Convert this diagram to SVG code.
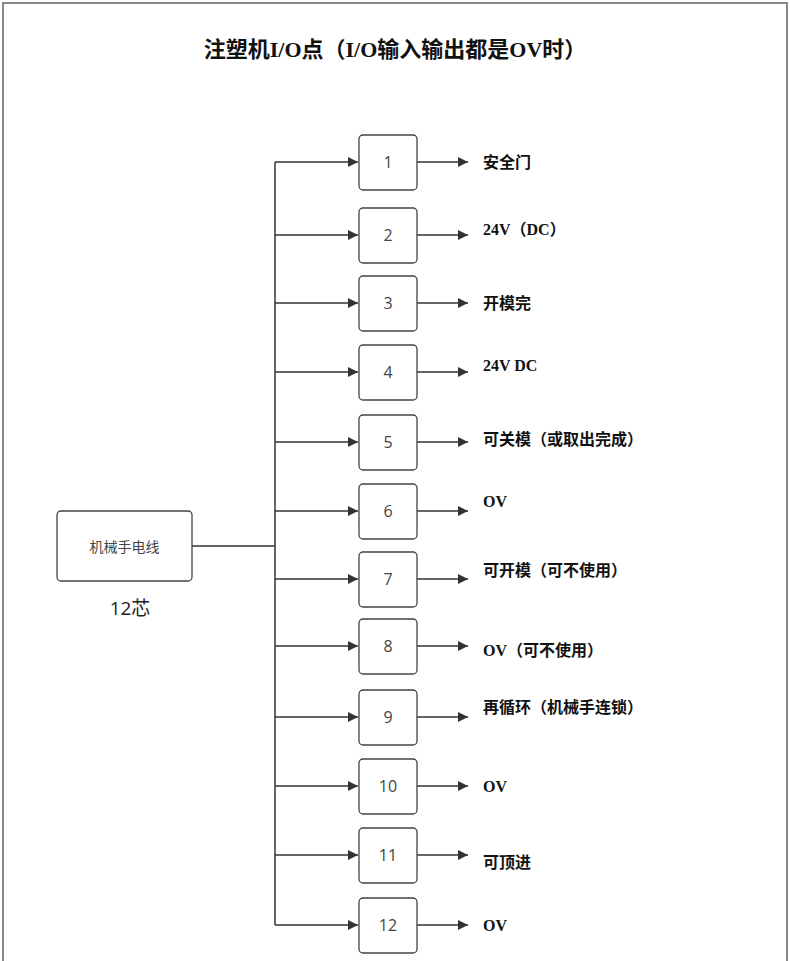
<svg xmlns="http://www.w3.org/2000/svg" width="790" height="961" viewBox="0 0 790 961">
<style>
.box{fill:#fff;stroke:#444;stroke-width:1.3}
.num{font-family:"Open Sans","Noto Sans CJK SC",sans-serif;font-size:16px;fill:#444;text-anchor:middle}
.lbl{font-family:"Liberation Serif","Noto Sans CJK SC",serif;font-size:16px;font-weight:bold;fill:#111}
.ln{stroke:#333;stroke-width:1.5;fill:none}
.a{stroke:#333;stroke-width:1.5;fill:none;marker-end:url(#ar)}
</style>
<defs><marker id="ar" viewBox="0 0 10 10" refX="10" refY="5" markerWidth="10" markerHeight="10" markerUnits="userSpaceOnUse" orient="auto"><path d="M0,0 L10,5 L0,10z" fill="#333"/></marker></defs>
<rect x="0" y="0" width="790" height="961" fill="#fff"/>
<rect x="3" y="3" width="784" height="970" fill="none" stroke="#888" stroke-width="2"/>
<text x="395" y="57" text-anchor="middle" font-family="Liberation Serif,'Noto Sans CJK SC',serif" font-size="22" font-weight="bold" fill="#111">注塑机I/O点（I/O输入输出都是OV时）</text>
<g id="connectors">
<path class="ln" d="M192,546 H275 M275,162 V925"/>
<path class="a" d="M275,162H358"/><path class="a" d="M275,235H358"/><path class="a" d="M275,303H358"/><path class="a" d="M275,372H358"/><path class="a" d="M275,442H358"/><path class="a" d="M275,511H358"/><path class="a" d="M275,579H358"/><path class="a" d="M275,646H358"/><path class="a" d="M275,717H358"/><path class="a" d="M275,786H358"/><path class="a" d="M275,855H358"/><path class="a" d="M275,925H358"/>
<path class="a" d="M417,162H468"/><path class="a" d="M417,235H468"/><path class="a" d="M417,303H468"/><path class="a" d="M417,372H468"/><path class="a" d="M417,442H468"/><path class="a" d="M417,511H468"/><path class="a" d="M417,579H468"/><path class="a" d="M417,646H468"/><path class="a" d="M417,717H468"/><path class="a" d="M417,786H468"/><path class="a" d="M417,855H468"/><path class="a" d="M417,925H468"/>
</g>
<g id="main"><rect class="box" x="57" y="511" width="135" height="70" rx="4"/><text x="124.5" y="552" text-anchor="middle" font-family="'Noto Sans CJK SC',sans-serif" font-size="14" fill="#444">机械手电线</text><text x="130" y="615" text-anchor="middle" font-family="'Open Sans','Noto Sans CJK SC',sans-serif" font-size="19" fill="#222">12芯</text></g>
<g id="n1"><rect class="box" x="359" y="135" width="58" height="55" rx="4"/><text class="num" x="388" y="168">1</text><text class="lbl" x="483" y="168">安全门</text></g>
<g id="n2"><rect class="box" x="359" y="208" width="58" height="55" rx="4"/><text class="num" x="388" y="241">2</text><text class="lbl" x="483" y="235">24V（DC）</text></g>
<g id="n3"><rect class="box" x="359" y="276" width="58" height="55" rx="4"/><text class="num" x="388" y="309">3</text><text class="lbl" x="483" y="309">开模完</text></g>
<g id="n4"><rect class="box" x="359" y="345" width="58" height="55" rx="4"/><text class="num" x="388" y="378">4</text><text class="lbl" x="483" y="371">24V DC</text></g>
<g id="n5"><rect class="box" x="359" y="415" width="58" height="55" rx="4"/><text class="num" x="388" y="448">5</text><text class="lbl" x="483" y="445">可关模（或取出完成）</text></g>
<g id="n6"><rect class="box" x="359" y="484" width="58" height="55" rx="4"/><text class="num" x="388" y="517">6</text><text class="lbl" x="483" y="507">OV</text></g>
<g id="n7"><rect class="box" x="359" y="552" width="58" height="55" rx="4"/><text class="num" x="388" y="585">7</text><text class="lbl" x="483" y="576">可开模（可不使用）</text></g>
<g id="n8"><rect class="box" x="359" y="619" width="58" height="55" rx="4"/><text class="num" x="388" y="652">8</text><text class="lbl" x="483" y="656">OV（可不使用）</text></g>
<g id="n9"><rect class="box" x="359" y="690" width="58" height="55" rx="4"/><text class="num" x="388" y="723">9</text><text class="lbl" x="483" y="713">再循环（机械手连锁）</text></g>
<g id="n10"><rect class="box" x="359" y="759" width="58" height="55" rx="4"/><text class="num" x="388" y="792">10</text><text class="lbl" x="483" y="792">OV</text></g>
<g id="n11"><rect class="box" x="359" y="828" width="58" height="55" rx="4"/><text class="num" x="388" y="861">11</text><text class="lbl" x="483" y="868">可顶进</text></g>
<g id="n12"><rect class="box" x="359" y="898" width="58" height="55" rx="4"/><text class="num" x="388" y="931">12</text><text class="lbl" x="483" y="931">OV</text></g>
</svg>
